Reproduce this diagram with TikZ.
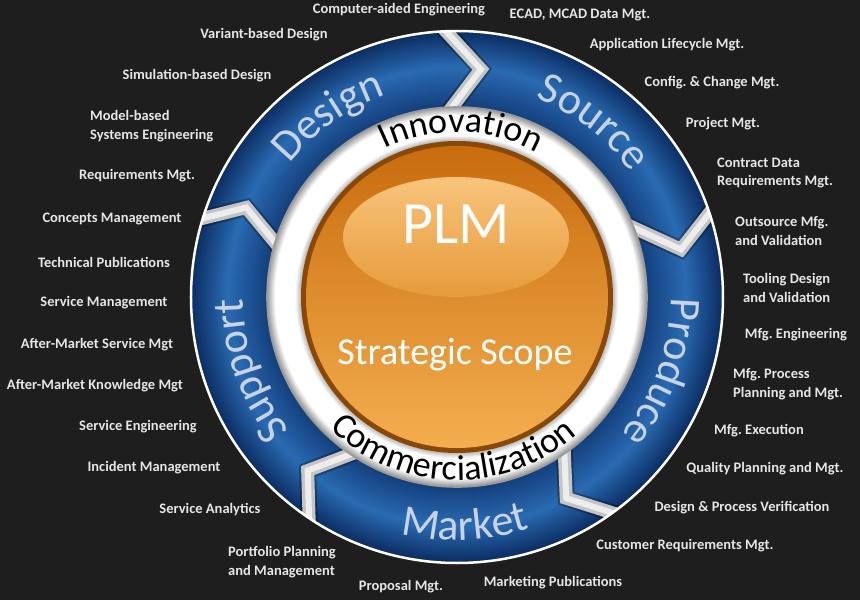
\documentclass[tikz,border=0pt]{standalone}
\usepackage{fontspec}
\setmainfont{Carlito}
\frenchspacing
\usetikzlibrary{decorations.text}
\definecolor{bg}{HTML}{1E1E1E}
\definecolor{lbl}{HTML}{E6E6E6}
\definecolor{ringtxt}{HTML}{C8D4E4}
\definecolor{chevgray}{HTML}{C4C4C4}
\definecolor{chevlight}{HTML}{EDEDED}
\definecolor{brn}{HTML}{8A4805}
\definecolor{orA}{HTML}{C86C0E}
\definecolor{orB}{HTML}{DC8620}
\definecolor{orC}{HTML}{F4AE4E}
\definecolor{hlA}{HTML}{F8C47C}
\definecolor{hlB}{HTML}{E69A3A}
\definecolor{cIn}{HTML}{143F7C}
\definecolor{cPk}{HTML}{2A6BB3}
\definecolor{cOut}{HTML}{0C2D62}
\definecolor{wEdgeIn}{HTML}{B4B4B4}
\definecolor{wEdgeOut}{HTML}{9A9A9A}
\newcommand{\arcword}[6]{%
  \path[decorate, decoration={text along path, text align=center, text color=#5,
    text={|\fontsize{#4}{#4}\selectfont|#6}}] (#2:#1) arc[start angle=#2, end angle=#3, radius=#1];}
\tikzset{
  lbl/.style={text=lbl, font=\fontsize{14.5}{18.5}\selectfont\bfseries, inner sep=0pt},
  lbll/.style={lbl, anchor=west, align=left},
  chevshade/.style={black, opacity=.3, line width=17, line join=miter},
  chevband/.style={chevgray, line width=13, line join=miter},
  chevhi/.style={chevlight, line width=6, line join=miter}
}
\begin{document}
\begin{tikzpicture}[x=1pt,y=1pt]
\fill[bg] (-457,-303) rectangle (403,297);
\useasboundingbox (-457,-303) rectangle (403,297);
% blue ring (concentric gradient)
\foreach \r in {190,...,230}{
  \pgfmathsetmacro\p{(\r-190)/40*100}
  \draw[line width=1.6, color=cPk!\p!cIn] (0,0) circle (\r);
}
\foreach \r in {231,...,266}{
  \pgfmathsetmacro\p{(\r-230)/36*100}
  \draw[line width=1.6, color=cOut!\p!cPk] (0,0) circle (\r);
}
\begin{scope}
  \clip (0,0) circle (266);
  \foreach \i/\o/\a in {93.5/93.8/84, 24/19.5/12, -54/-53/-61.5, -122.3/-122.6/-130.7, 165/163.8/157}{
    \draw[chevshade] (\o:274) -- (\a:229) -- (\i:182);
    \draw[chevband] (\o:274) -- (\a:229) -- (\i:182);
    \draw[chevhi] (\o:274) -- (\a:229) -- (\i:182);
  }
\end{scope}
\draw[white, line width=2.5] (0,0) circle (266);
% white ring
\fill[white] (0,0) circle (190);
\foreach \r in {183,...,190}{
  \pgfmathsetmacro\p{(\r-182)/8*100}
  \draw[line width=1.6, color=wEdgeOut!\p!white] (0,0) circle (\r);
}
\foreach \r in {156,...,162}{
  \pgfmathsetmacro\p{(162-\r)/6*100}
  \draw[line width=1.6, color=wEdgeIn!\p!white] (0,0) circle (\r);
}
% orange sphere
\fill[brn] (0,0) circle (156);
\shade[top color=orA, middle color=orB, bottom color=orC] (0,0) circle (151);
\shade[top color=hlA, bottom color=hlB] (-1,60) ellipse [x radius=113, y radius=60];
\node[text=white, font=\fontsize{60}{60}\selectfont, anchor=base] (plm) at (-1,53) {PLM};
\node[text=white, font=\fontsize{38}{38}\selectfont, anchor=base] (scope) at (-2,-67) {Strategic Scope};
% ring words
\arcword{214}{160}{91}{44}{ringtxt}{Design}
\arcword{214}{87}{17}{44}{ringtxt}{Source}
\arcword{214}{15}{-55}{44}{ringtxt}{Produce}
\arcword{243}{-128}{-48}{44}{ringtxt}{Market}
\arcword{214}{235}{164}{44}{ringtxt}{Support}
\arcword{165}{140}{37}{36}{black}{Innovation}
\arcword{183}{-160}{-23}{36}{black}{Commercialization}
% labels in image coordinates
\begin{scope}[shift={(-457,297)}, yscale=-1]
  \node[lbl] (l1) at (399,10) {Computer-aided Engineering};
  \node[lbl] (l2) at (580,15) {ECAD, MCAD Data Mgt.};
  \node[lbl] (l3) at (264,35) {Variant-based Design};
  \node[lbl] (l4) at (667,45) {Application Lifecycle Mgt.};
  \node[lbl] (l5) at (197,76) {Simulation-based Design};
  \node[lbl] (l6) at (712,83) {Config. \& Change Mgt.};
  \node[lbll] (l7) at (90,126) {Model-based\\Systems Engineering};
  \node[lbl] (l8) at (723,124) {Project Mgt.};
  \node[lbll] (l9) at (717,173) {Contract Data\\Requirements Mgt.};
  \node[lbl] (l10) at (137,176) {Requirements Mgt.};
  \node[lbl] (l11) at (112,219) {Concepts Management};
  \node[lbll] (l12) at (735,231) {Outsource Mfg.\\and Validation};
  \node[lbl] (l13) at (104,262) {Technical Publications};
  \node[lbll] (l14) at (743,288) {Tooling Design\\and Validation};
  \node[lbl] (l15) at (104,303) {Service Management};
  \node[lbl] (l16) at (796,335) {Mfg. Engineering};
  \node[lbl] (l17) at (97,345) {After-Market Service Mgt};
  \node[lbll] (l18) at (733,384) {Mfg. Process\\Planning and Mgt.};
  \node[lbl] (l19) at (95,386) {After-Market Knowledge Mgt};
  \node[lbl] (l20) at (138,427) {Service Engineering};
  \node[lbl] (l21) at (759,431) {Mfg. Execution};
  \node[lbl] (l22) at (154,468) {Incident Management};
  \node[lbl] (l23) at (765,469) {Quality Planning and Mgt.};
  \node[lbl] (l24) at (210,510) {Service Analytics};
  \node[lbl] (l25) at (742,508) {Design \& Process Verification};
  \node[lbll] (l26) at (228,562) {Portfolio Planning\\and Management};
  \node[lbl] (l27) at (685,546) {Customer Requirements Mgt.};
  \node[lbl] (l28) at (401,587) {Proposal Mgt.};
  \node[lbl] (l29) at (553,583) {Marketing Publications};
\end{scope}
\end{tikzpicture}
\end{document}
